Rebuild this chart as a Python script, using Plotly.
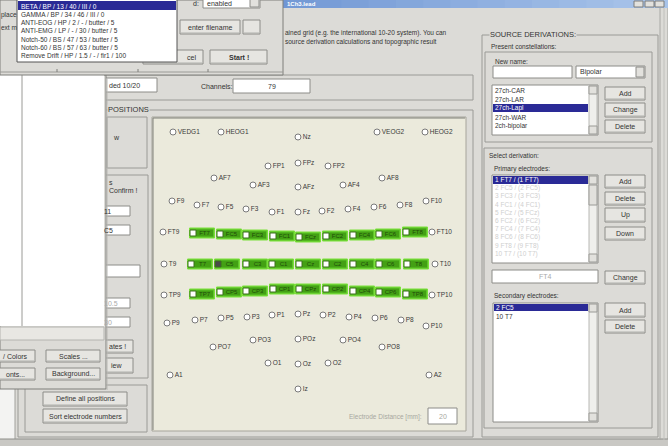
import plotly.graph_objects as go

W, H = 668, 446
FONT = "Liberation Sans"

# ---- electrode map data (x, y in screen pixels of the positions panel) ----
radio_names = ["VEDG1", "HEOG1", "Nz", "VEOG2", "HEOG2",
               "FP1", "FPz", "FP2",
               "AF7", "AF3", "AFz", "AF4", "AF8",
               "F9", "F7", "F5", "F3", "F1", "Fz", "F2", "F4", "F6", "F8", "F10",
               "FT9", "FT10", "T9", "T10", "TP9", "TP10",
               "P9", "P7", "P5", "P3", "P1", "Pz", "P2", "P4", "P6", "P8", "P10",
               "PO7", "PO3", "POz", "PO4", "PO8",
               "O1", "Oz", "O2", "A1", "A2", "Iz"]
radio_x = [173, 221, 298, 377, 425,
           268, 298, 328,
           214, 253, 298, 343, 382,
           172, 197, 221, 246, 272, 298, 322, 348, 374, 400, 426,
           163, 432, 164, 435, 164, 432,
           167, 195, 221, 247, 272, 298, 323, 349, 375, 401, 426,
           213, 253, 298, 343, 382,
           268, 298, 328, 170, 429, 298]
radio_y = [132, 132, 137, 132, 132,
           166, 163, 166,
           178, 185, 187, 185, 178,
           201, 205, 207, 209, 212, 212, 211, 209, 207, 205, 201,
           232, 232, 264, 264, 295, 295,
           323, 320, 318, 317, 315, 314, 315, 317, 318, 320, 326,
           347, 340, 339, 340, 347,
           363, 364, 363, 375, 375, 389]

# electrodes of the current montage (green check boxes)
sel_names = ["FT7", "FC5", "FC3", "FC1", "FCz", "FC2", "FC4", "FC6", "FT8",
             "T7", "C5", "C3", "C1", "Cz", "C2", "C4", "C6", "T8",
             "TP7", "CP5", "CP3", "CP1", "CPz", "CP2", "CP4", "CP6", "TP8"]
sel_x = [202, 229, 255, 282, 308, 335, 362, 388, 415,
         200, 227, 255, 281, 308, 335, 362, 388, 416,
         202, 229, 255, 282, 308, 335, 362, 388, 415]
sel_y = [233, 234, 235, 236, 237, 236, 235, 234, 232,
         264, 264, 264, 264, 264, 264, 264, 264, 264,
         294, 292, 291, 289, 289, 289, 291, 292, 294]
checked = ["C5"]

# list contents
filter_items = ["BETA / BP / 13 / 40 / III / 0", "GAMMA / BP / 34 / 46 / III / 0",
                "ANTI-EOG / HP / 2 / - / butter / 5", "ANTI-EMG / LP / - / 30 / butter / 5",
                "Notch-50 / BS / 47 / 53 / butter / 5", "Notch-60 / BS / 57 / 63 / butter / 5",
                "Remove Drift / HP / 1.5 / - / fir1 / 100"]
constellations = ["27ch-CAR", "27ch-LAR", "27ch-Lapl", "27ch-WAR", "2ch-bipolar"]
primary_items = ["1 FT7 / (1 FT7)", "2 FC5 / (2 FC5)", "3 FC3 / (3 FC3)", "4 FC1 / (4 FC1)",
                 "5 FCz / (5 FCz)", "6 FC2 / (6 FC2)", "7 FC4 / (7 FC4)", "8 FC6 / (8 FC6)",
                 "9 FT8 / (9 FT8)", "10 T7 / (10 T7)"]
secondary_items = ["2 FC5", "10 T7"]

GREY = "#dcdbd7"
shapes = []
annots = []


def rect(x0, y0, x1, y1, fill=None, line="#9a9a96", width=1):
    shapes.append(dict(type="rect", x0=x0, y0=y0, x1=x1, y1=y1, xref="x", yref="y",
                       fillcolor=fill if fill else "rgba(0,0,0,0)",
                       line=dict(color=line, width=width if line else 0), layer="below"))


def hline(x0, x1, y, color="#9a9a96"):
    shapes.append(dict(type="line", x0=x0, x1=x1, y0=y, y1=y, xref="x", yref="y",
                       line=dict(color=color, width=1), layer="below"))


def vline(x, y0, y1, color="#9a9a96"):
    shapes.append(dict(type="line", x0=x, x1=x, y0=y0, y1=y1, xref="x", yref="y",
                       line=dict(color=color, width=1), layer="below"))


def txt(x, y, s, size=7, color="#333333", anchor="left", bold=False, bg=None):
    if bold:
        s = "<b>" + s + "</b>"
    annots.append(dict(x=x, y=y, xref="x", yref="y", text=s, showarrow=False,
                       xanchor=anchor, yanchor="middle", borderpad=0,
                       bgcolor=bg if bg else "rgba(0,0,0,0)",
                       font=dict(family=FONT, size=size, color=color)))


def button(x0, y0, x1, y1, label, bold=False):
    rect(x0, y0, x1, y1, fill="#e6e5e1", line="#8c8c88")
    hline(x0 + 1, x1 - 1, y1 - 1, "#b0b0ac")
    txt((x0 + x1) / 2, (y0 + y1) / 2, label, anchor="center", bold=bold)


def field(x0, y0, x1, y1, label="", anchor="left", color="#333333"):
    rect(x0, y0, x1, y1, fill="white", line="#8c8c88")
    if label:
        xx = x0 + 3 if anchor == "left" else (x0 + x1) / 2
        txt(xx, (y0 + y1) / 2, label, anchor=anchor, color=color)


def scroll(x, y0, y1):
    rect(x, y0, x + 8, y1, fill="#efefec", line="#b8b8b4")
    rect(x, y0, x + 8, y0 + 8, fill="#e2e1dd", line="#9a9a96")
    rect(x, y1 - 8, x + 8, y1, fill="#e2e1dd", line="#9a9a96")


# ---- background, desktop strip and main window ----
rect(0, 0, W, H, fill="#f3f3f2", line=None)
rect(15, 0, W, 440, fill=GREY, line="#a0a09c")
rect(0, 439, W, H, fill="#c9c8c4", line=None)
hline(0, W, 439, "#8e8e8a")
vline(660, 0, 440, "#a8a8a4")
vline(664, 0, 440, "#c0c0bc")

# title bar gradient
n = 24
for i in range(n):
    t = i / (n - 1)
    r = int(0x4d + t * (0xa8 - 0x4d))
    g = int(0x7a + t * (0xc4 - 0x7a))
    b = int(0xc6 + t * (0xea - 0xc6))
    x0 = 15 + i * (W - 15) / n
    rect(x0, 0, x0 + (W - 15) / n + 1, 8, fill=f"rgb({r},{g},{b})", line=None)
for bx in (634, 645, 655):
    rect(bx, 1, bx + 9, 7, fill="#e2e1dd", line="#7d7d7a")
txt(286, 3.5, "1Ch3.lead", size=6, color="white", bold=True)

# description text
txt(284, 33, "ained grid (e.g. the international 10-20 system). You can", size=6.5)
txt(284, 42, "source derivation calculations and topographic result", size=6.5)

# montage info row
rect(105, 75, 473, 100, line="#9a9a96")
field(105, 78, 157, 92, "ded 10/20")
txt(200, 86, "Channels:")
field(233, 79, 310, 93, "79", anchor="center")

# ---- ELECTRODE POSITIONS group ----
rect(18, 110, 473, 437, line="#9a9a96")
txt(107, 109, "POSITIONS", size=7.5, bg=GREY)
rect(107, 117, 147, 168, line="#9a9a96")
txt(112, 137, "w")
rect(95, 175, 148, 378, line="#9a9a96")
txt(108, 182, "s")
txt(108, 190, "Confirm !")
field(100, 206, 130, 216, "11")
field(100, 225, 130, 235, "C5")
field(100, 265, 140, 277)
field(100, 298, 130, 308, "10.5", color="#aaaaaa")
field(100, 317, 130, 327, "30", color="#aaaaaa")
button(100, 340, 133, 353, "")
txt(108, 346.5, "ates !")
button(100, 358, 133, 373, "")
txt(110, 365.5, "iew")

rect(25, 385, 147, 432, line="#9a9a96")
button(43, 392, 127, 406, "Define all positions")
button(43, 409, 127, 423, "Sort electrode numbers")

# electrode panel
rect(152, 117, 466, 431, fill="#ebeadc", line="#a6a59c")
hline(153, 465, 118, "#80807a")
vline(153, 118, 430, "#80807a")
txt(423, 417, "Electrode Distance [mm]:", size=6.5, color="#a8a8a0", anchor="right")
field(428, 408, 457, 424, "20", anchor="center", color="#a8a8a0")

# green montage boxes
for name, cx, cy in zip(sel_names, sel_x, sel_y):
    rect(cx - 12.5, cy - 5, cx + 12.5, cy + 5, fill="#5fc52a", line="#7be03a")
    rect(cx - 6, cy - 3.5, cx + 11, cy + 3.5, fill="#43a014", line=None)

# ---- lower-left window (overlapping) ----
rect(0, 75, 106, 389, fill=GREY, line="#7e7e7a")
rect(0, 75, 104, 326, fill="white", line=None)
vline(22, 75, 326, "#9a9a96")
rect(0, 327, 104, 340, fill="#e8e7e3", line="#b4b4b0")
button(-5, 350, 35, 362, "/ Colors")
button(46, 350, 100, 362, "Scales ...")
button(-5, 368, 35, 380, "onts...")
button(46, 368, 100, 380, "Background...")
vline(107, 78, 390, "#b8b8b4")

# ---- top-left filter dialog (overlapping) ----
rect(0, 0, 283, 75, fill=GREY, line="#7e7e7a")
hline(0, 283, 72, "#9a9a96")
for tx in (57, 138, 208):
    vline(tx, 69, 72, "#7e7e7a")
txt(0, 15, "place", size=6.5)
txt(0, 27, "ext m", size=6.5)
txt(192, 3, "d:")
field(203, -2, 260, 8, "enabled")
rect(250, -1, 259, 7, fill="#e2e1dd", line="#8c8c88")
button(180, 20, 240, 34, "enter filename")
button(243, 20, 260, 34, "")
button(143, 50, 203, 64, "")
txt(186, 57, "cel")
button(210, 50, 267, 64, "Start !", bold=True)
rect(17, -1, 177, 62, fill="white", line="#555555")
rect(18, 1, 176, 10, fill="#2a2a96", line=None)
for i, item in enumerate(filter_items):
    txt(20, 6 + i * 8.3, item, size=6.5, color="white" if i == 0 else "#333333")

# ---- SOURCE DERIVATIONS group ----
rect(482, 35, 658, 437, line="#9a9a96")
txt(489, 34, "SOURCE DERIVATIONS:", size=7.5, bg=GREY)
txt(490, 46, "Present constellations:", size=6.5)
rect(485, 52, 652, 142, line="#9a9a96")
txt(494, 61, "New name:", size=6.5)
field(493, 66, 572, 78)
field(576, 66, 645, 78, "Bipolar")
rect(636, 67, 644, 77, fill="#e2e1dd", line="#8c8c88")
field(492, 85, 598, 135)
scroll(589, 86, 134)
rect(493, 104, 588, 112, fill="#2a2a96", line=None)
for i, item in enumerate(constellations):
    txt(494, 90 + i * 9, item, size=6.5, color="white" if i == 2 else "#333333")
button(605, 87, 645, 100, "Add")
button(605, 103, 645, 117, "Change")
button(605, 120, 645, 133, "Delete")

txt(488, 155, "Select derivation:", size=6.5)
rect(484, 148, 652, 428, line="#9a9a96")
txt(493, 169, "Primary electrodes:", size=6.5)
field(492, 175, 598, 263)
scroll(589, 176, 262)
rect(589, 185, 597, 205, fill="#e2e1dd", line="#9a9a96")
rect(493, 176, 588, 184, fill="#2a2a96", line=None)
for i, item in enumerate(primary_items):
    txt(494, 180 + i * 8.2, item, size=6.5, color="white" if i == 0 else "#cfcfcf")
button(605, 175, 645, 188, "Add")
button(605, 192, 645, 205, "Delete")
button(605, 208, 645, 222, "Up")
button(605, 227, 645, 240, "Down")
field(492, 270, 598, 283, "FT4", anchor="center", color="#aaaaaa")
button(605, 271, 645, 284, "Change")
txt(493, 296, "Secondary electrodes:", size=6.5)
field(493, 303, 598, 422)
scroll(589, 304, 421)
rect(494, 304, 588, 311, fill="#2a2a96", line=None)
for i, item in enumerate(secondary_items):
    txt(495, 307.5 + i * 8.5, item, size=6.5, color="white" if i == 0 else "#333333")
button(605, 303, 645, 317, "Add")
button(605, 320, 645, 333, "Delete")

# ---- traces: radio electrodes and montage check boxes ----
fig = go.Figure()
fig.add_trace(go.Scatter(
    x=radio_x, y=radio_y, mode="markers+text", text=radio_names,
    textposition="middle right",
    marker=dict(symbol="circle", size=6, color="white", line=dict(color="#7a7a7a", width=1)),
    textfont=dict(family=FONT, size=6.5, color="#3a3a3a"),
    hoverinfo="text", showlegend=False))

fig.add_trace(go.Scatter(
    x=[x - 9 for x in sel_x], y=sel_y, mode="markers",
    marker=dict(symbol="square", size=6,
                color=["#4a4a4a" if nm in checked else "white" for nm in sel_names],
                line=dict(color="#3a6e1a", width=1)),
    hoverinfo="skip", showlegend=False))

fig.add_trace(go.Scatter(
    x=[x + 2.5 for x in sel_x], y=sel_y, mode="text", text=sel_names,
    textfont=dict(family=FONT, size=6, color="#1f4d0a"),
    hoverinfo="text", showlegend=False))

fig.update_layout(
    width=W, height=H,
    margin=dict(l=0, r=0, t=0, b=0),
    paper_bgcolor=GREY, plot_bgcolor=GREY,
    xaxis=dict(range=[0, W], visible=False, fixedrange=True),
    yaxis=dict(range=[H, 0], visible=False, fixedrange=True),
    shapes=shapes, annotations=annots,
    showlegend=False,
)

# drop the default page margin so the 668x446 figure fills the window exactly
fig.write_html("out.html", config={"displayModeBar": False},
               post_script="document.body.style.margin='0px';")
